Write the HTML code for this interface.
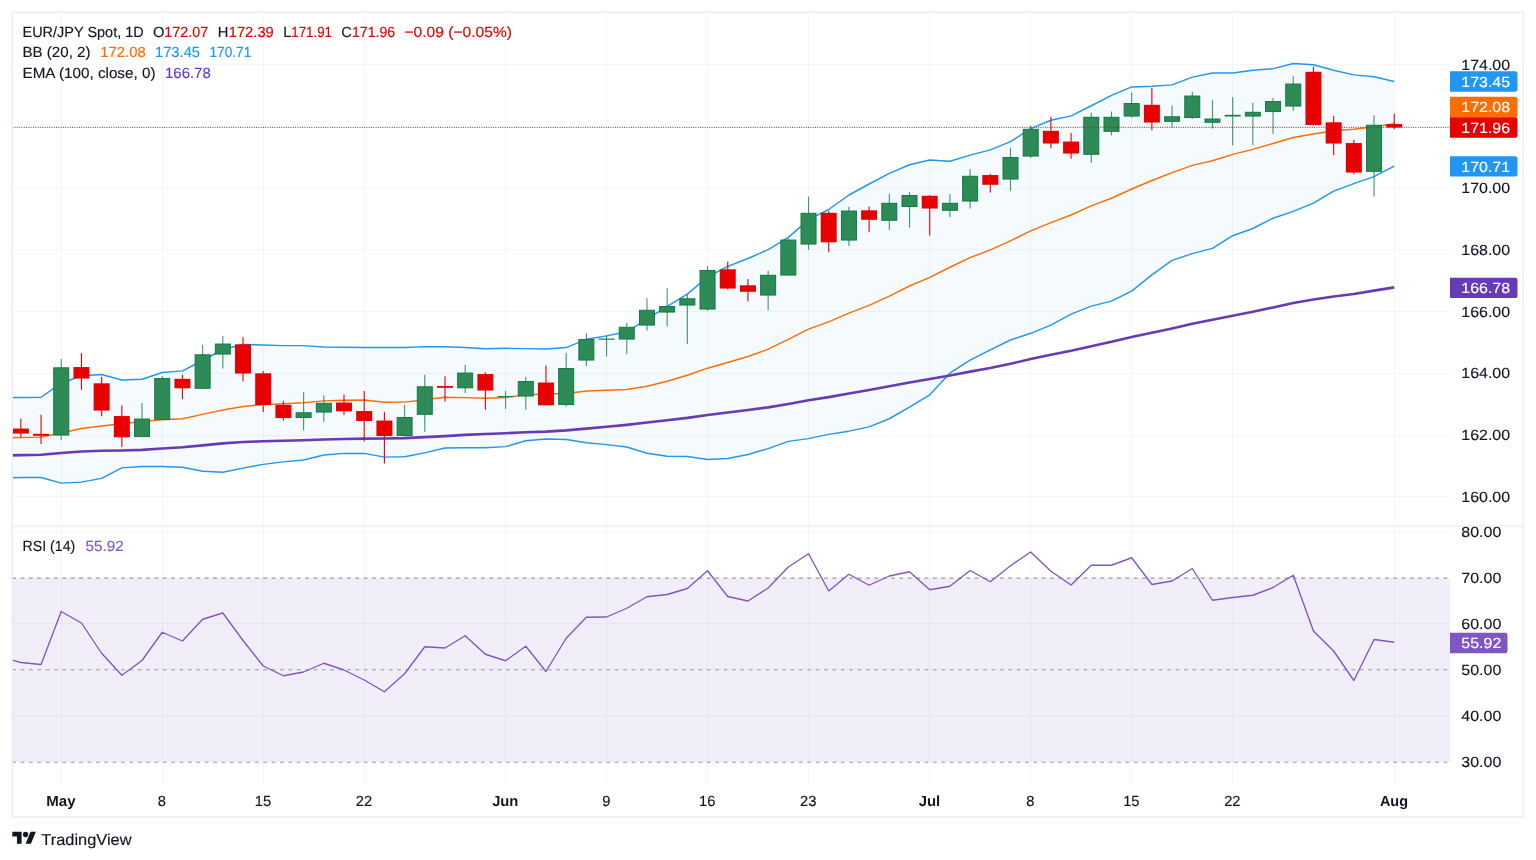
<!DOCTYPE html>
<html lang="en"><head><meta charset="utf-8"><title>EUR/JPY Spot, 1D</title>
<style>html,body{margin:0;padding:0;background:#fff}body{width:1536px;height:860px;overflow:hidden}svg{display:block}text{font-family:"Liberation Sans", sans-serif;white-space:pre;text-rendering:geometricPrecision}</style>
</head><body>
<svg width="1536" height="860" viewBox="0 0 1536 860">
<defs><clipPath id="cm"><rect x="12.5" y="12.5" width="1437" height="513"/></clipPath><clipPath id="cr"><rect x="12.5" y="526.5" width="1437" height="258"/></clipPath></defs>
<rect width="1536" height="860" fill="#fff"/>
<g stroke="#20242a" stroke-opacity="0.045" stroke-width="1" shape-rendering="crispEdges">
<line x1="61.5" y1="13" x2="61.5" y2="784"/>
<line x1="162.5" y1="13" x2="162.5" y2="784"/>
<line x1="263.5" y1="13" x2="263.5" y2="784"/>
<line x1="364.5" y1="13" x2="364.5" y2="784"/>
<line x1="505.5" y1="13" x2="505.5" y2="784"/>
<line x1="606.5" y1="13" x2="606.5" y2="784"/>
<line x1="707.5" y1="13" x2="707.5" y2="784"/>
<line x1="808.5" y1="13" x2="808.5" y2="784"/>
<line x1="929.5" y1="13" x2="929.5" y2="784"/>
<line x1="1030.5" y1="13" x2="1030.5" y2="784"/>
<line x1="1131.5" y1="13" x2="1131.5" y2="784"/>
<line x1="1232.5" y1="13" x2="1232.5" y2="784"/>
<line x1="1394.5" y1="13" x2="1394.5" y2="784"/>
<line x1="12" y1="64.5" x2="1450" y2="64.5"/>
<line x1="12" y1="126.5" x2="1450" y2="126.5"/>
<line x1="12" y1="188.5" x2="1450" y2="188.5"/>
<line x1="12" y1="249.5" x2="1450" y2="249.5"/>
<line x1="12" y1="311.5" x2="1450" y2="311.5"/>
<line x1="12" y1="373.5" x2="1450" y2="373.5"/>
<line x1="12" y1="435.5" x2="1450" y2="435.5"/>
<line x1="12" y1="496.5" x2="1450" y2="496.5"/>
<line x1="12" y1="532.5" x2="1450" y2="532.5"/>
<line x1="12" y1="623.5" x2="1450" y2="623.5"/>
<line x1="12" y1="715.5" x2="1450" y2="715.5"/>
</g>
<g clip-path="url(#cm)">
<polygon points="0.65,397.5 20.85,397.5 41.05,397.25 61.24,383.2 81.44,375.7 101.64,374.5 121.84,380 142.03,379.25 162.23,372.5 182.43,370.9 202.62,360.5 222.82,349.5 243.02,344.5 263.21,345 283.41,345.6 303.61,345.6 323.81,347 344,347.25 364.2,347.5 384.4,347.5 404.59,347.41 424.79,346.62 444.99,346.66 465.18,347.5 485.38,348.74 505.58,348.34 525.77,348.61 545.97,348.97 566.17,347.56 586.37,339.32 606.56,335.9 626.76,331.79 646.96,319.15 667.15,306.33 687.35,294.15 707.55,276.94 727.75,266.42 747.94,258.48 768.14,249.7 788.34,237.33 808.53,219.64 828.73,209.51 848.93,194.99 869.12,184.01 889.32,173.35 909.52,164.78 929.72,159.93 949.91,161.29 970.11,155.16 990.31,149.91 1010.5,141.7 1030.7,128.6 1050.9,120.23 1071.09,115.91 1091.29,105.75 1111.49,95.45 1131.68,86.94 1151.88,86.19 1172.08,84.85 1192.28,77.16 1212.47,72.99 1232.67,72.95 1252.87,70.29 1273.06,68.66 1293.26,63.55 1313.46,64.8 1333.65,70.3 1353.85,74.87 1374.05,76.68 1394.25,81.5 1394.25,166.1 1374.05,176.67 1353.85,183.58 1333.65,191.17 1313.46,203.17 1293.26,211.42 1273.06,218.24 1252.87,228.48 1232.67,235.7 1212.47,248.41 1192.28,253.67 1172.08,260.37 1151.88,274.89 1131.68,291.06 1111.49,301.1 1091.29,306.12 1071.09,314.11 1050.9,325.05 1030.7,333.3 1010.5,340 990.31,349.94 970.11,360.11 949.91,373.21 929.72,394.82 909.52,407.22 889.32,418.75 869.12,426.87 848.93,431.16 828.73,434.36 808.53,438.63 788.34,441.37 768.14,448.65 747.94,454.49 727.75,458.5 707.55,459.41 687.35,456.42 667.15,456.22 646.96,453.3 626.76,447.04 606.56,444.6 586.37,442.76 566.17,439.44 545.97,439.03 525.77,440.71 505.58,446.61 485.38,447.66 465.18,447.7 444.99,448.01 424.79,452.86 404.59,456.79 384.4,457.1 364.2,453.4 344,453.4 323.81,455 303.61,460 283.41,461.9 263.21,464.4 243.02,468.1 222.82,472.25 202.62,471.25 182.43,467.25 162.23,466.5 142.03,466.5 121.84,467.9 101.64,478.4 81.44,482.1 61.24,483.1 41.05,477.5 20.85,477.5 0.65,478.2" fill="#2196f3" fill-opacity="0.05"/>
<polyline points="0.65,437.9 20.85,437.5 41.05,437.1 61.24,433 81.44,428.5 101.64,426 121.84,423.75 142.03,421.5 162.23,419.75 182.43,418.75 202.62,414.4 222.82,410 243.02,406.5 263.21,404.6 283.41,403.75 303.61,402.75 323.81,400.9 344,400.25 364.2,400 384.4,402.25 404.59,402.1 424.79,399.74 444.99,397.34 465.18,397.6 485.38,398.2 505.58,397.48 525.77,394.66 545.97,394 566.17,393.5 586.37,391.04 606.56,390.25 626.76,389.41 646.96,386.23 667.15,381.28 687.35,375.29 707.55,368.18 727.75,362.46 747.94,356.49 768.14,349.18 788.34,339.35 808.53,329.14 828.73,321.94 848.93,313.08 869.12,305.44 889.32,296.05 909.52,286 929.72,277.38 949.91,267.25 970.11,257.64 990.31,249.93 1010.5,240.85 1030.7,230.95 1050.9,222.64 1071.09,215.01 1091.29,205.94 1111.49,198.28 1131.68,189 1151.88,180.54 1172.08,172.61 1192.28,165.41 1212.47,160.7 1232.67,154.33 1252.87,149.39 1273.06,143.45 1293.26,137.49 1313.46,133.99 1333.65,130.74 1353.85,129.23 1374.05,126.68 1394.25,123.8" fill="none" stroke="#ff6d00" stroke-width="1.45" stroke-linejoin="round"/>
<polyline points="0.65,397.5 20.85,397.5 41.05,397.25 61.24,383.2 81.44,375.7 101.64,374.5 121.84,380 142.03,379.25 162.23,372.5 182.43,370.9 202.62,360.5 222.82,349.5 243.02,344.5 263.21,345 283.41,345.6 303.61,345.6 323.81,347 344,347.25 364.2,347.5 384.4,347.5 404.59,347.41 424.79,346.62 444.99,346.66 465.18,347.5 485.38,348.74 505.58,348.34 525.77,348.61 545.97,348.97 566.17,347.56 586.37,339.32 606.56,335.9 626.76,331.79 646.96,319.15 667.15,306.33 687.35,294.15 707.55,276.94 727.75,266.42 747.94,258.48 768.14,249.7 788.34,237.33 808.53,219.64 828.73,209.51 848.93,194.99 869.12,184.01 889.32,173.35 909.52,164.78 929.72,159.93 949.91,161.29 970.11,155.16 990.31,149.91 1010.5,141.7 1030.7,128.6 1050.9,120.23 1071.09,115.91 1091.29,105.75 1111.49,95.45 1131.68,86.94 1151.88,86.19 1172.08,84.85 1192.28,77.16 1212.47,72.99 1232.67,72.95 1252.87,70.29 1273.06,68.66 1293.26,63.55 1313.46,64.8 1333.65,70.3 1353.85,74.87 1374.05,76.68 1394.25,81.5" fill="none" stroke="#2196f3" stroke-width="1.45" stroke-linejoin="round"/>
<polyline points="0.65,478.2 20.85,477.5 41.05,477.5 61.24,483.1 81.44,482.1 101.64,478.4 121.84,467.9 142.03,466.5 162.23,466.5 182.43,467.25 202.62,471.25 222.82,472.25 243.02,468.1 263.21,464.4 283.41,461.9 303.61,460 323.81,455 344,453.4 364.2,453.4 384.4,457.1 404.59,456.79 424.79,452.86 444.99,448.01 465.18,447.7 485.38,447.66 505.58,446.61 525.77,440.71 545.97,439.03 566.17,439.44 586.37,442.76 606.56,444.6 626.76,447.04 646.96,453.3 667.15,456.22 687.35,456.42 707.55,459.41 727.75,458.5 747.94,454.49 768.14,448.65 788.34,441.37 808.53,438.63 828.73,434.36 848.93,431.16 869.12,426.87 889.32,418.75 909.52,407.22 929.72,394.82 949.91,373.21 970.11,360.11 990.31,349.94 1010.5,340 1030.7,333.3 1050.9,325.05 1071.09,314.11 1091.29,306.12 1111.49,301.1 1131.68,291.06 1151.88,274.89 1172.08,260.37 1192.28,253.67 1212.47,248.41 1232.67,235.7 1252.87,228.48 1273.06,218.24 1293.26,211.42 1313.46,203.17 1333.65,191.17 1353.85,183.58 1374.05,176.67 1394.25,166.1" fill="none" stroke="#2196f3" stroke-width="1.45" stroke-linejoin="round"/>
<polyline points="0.65,455.6 20.85,455.16 41.05,454.78 61.24,453.05 81.44,451.57 101.64,450.76 121.84,450.49 142.03,449.86 162.23,448.44 182.43,447.25 202.62,445.41 222.82,443.39 243.02,442.01 263.21,441.28 283.41,440.82 303.61,440.25 323.81,439.51 344,438.95 364.2,438.6 384.4,438.55 404.59,438.12 424.79,437.1 444.99,436.12 465.18,434.86 485.38,433.99 505.58,433.24 525.77,432.2 545.97,431.67 566.17,430.41 586.37,428.61 606.56,426.82 626.76,424.84 646.96,422.57 667.15,420.26 687.35,417.85 707.55,414.92 727.75,412.42 747.94,410.04 768.14,407.36 788.34,404.04 808.53,400.25 828.73,397.13 848.93,393.43 869.12,390 889.32,386.29 909.52,382.51 929.72,379.06 949.91,375.57 970.11,371.62 990.31,367.92 1010.5,363.75 1030.7,359.1 1050.9,354.83 1071.09,350.84 1091.29,346.21 1111.49,341.67 1131.68,336.94 1151.88,332.7 1172.08,328.41 1192.28,323.8 1212.47,319.74 1232.67,315.68 1252.87,311.65 1273.06,307.48 1293.26,303.04 1313.46,299.52 1333.65,296.43 1353.85,293.98 1374.05,290.63 1394.25,287.4" fill="none" stroke="#673ab7" stroke-width="2.6" stroke-linejoin="round"/>
<rect x="20.3" y="418.55" width="1.1" height="18.75" fill="#e60000"/>
<rect x="12.85" y="428.55" width="16" height="5" fill="#e60000"/>
<rect x="40.5" y="414.8" width="1.1" height="29.25" fill="#e60000"/>
<rect x="33.05" y="433.8" width="16" height="2" fill="#e60000"/>
<rect x="60.69" y="359.05" width="1.1" height="81.25" fill="#2e8b57" fill-opacity="0.9"/>
<rect x="53.74" y="367.8" width="15" height="67.25" fill="#2e8b57" stroke="#0f7b41" stroke-width="1"/>
<rect x="80.89" y="353.05" width="1.1" height="36.75" fill="#e60000"/>
<rect x="73.44" y="367.05" width="16" height="11.5" fill="#e60000"/>
<rect x="101.09" y="376.8" width="1.1" height="39.5" fill="#e60000"/>
<rect x="93.64" y="383.3" width="16" height="27.25" fill="#e60000"/>
<rect x="121.29" y="405.55" width="1.1" height="41.5" fill="#e60000"/>
<rect x="113.84" y="416.05" width="16" height="21.25" fill="#e60000"/>
<rect x="141.48" y="403.05" width="1.1" height="34" fill="#2e8b57" fill-opacity="0.9"/>
<rect x="134.53" y="419.05" width="15" height="17.5" fill="#2e8b57" stroke="#0f7b41" stroke-width="1"/>
<rect x="161.68" y="376.05" width="1.1" height="43.75" fill="#2e8b57" fill-opacity="0.9"/>
<rect x="154.73" y="378.55" width="15" height="40.75" fill="#2e8b57" stroke="#0f7b41" stroke-width="1"/>
<rect x="181.88" y="374.8" width="1.1" height="24.25" fill="#e60000"/>
<rect x="174.43" y="378.8" width="16" height="9.5" fill="#e60000"/>
<rect x="202.07" y="344.8" width="1.1" height="44" fill="#2e8b57" fill-opacity="0.9"/>
<rect x="195.12" y="354.8" width="15" height="33.5" fill="#2e8b57" stroke="#0f7b41" stroke-width="1"/>
<rect x="222.27" y="335.8" width="1.1" height="32.75" fill="#2e8b57" fill-opacity="0.9"/>
<rect x="215.32" y="344.05" width="15" height="10" fill="#2e8b57" stroke="#0f7b41" stroke-width="1"/>
<rect x="242.47" y="337.3" width="1.1" height="44" fill="#e60000"/>
<rect x="235.02" y="344.3" width="16" height="29.25" fill="#e60000"/>
<rect x="262.66" y="371.05" width="1.1" height="41" fill="#e60000"/>
<rect x="255.21" y="373.3" width="16" height="31.75" fill="#e60000"/>
<rect x="282.86" y="401.05" width="1.1" height="19.5" fill="#e60000"/>
<rect x="275.41" y="404.8" width="16" height="13.25" fill="#e60000"/>
<rect x="303.06" y="392.3" width="1.1" height="38" fill="#2e8b57" fill-opacity="0.9"/>
<rect x="296.11" y="412.8" width="15" height="4.75" fill="#2e8b57" stroke="#0f7b41" stroke-width="1"/>
<rect x="323.25" y="395.3" width="1.1" height="26.5" fill="#2e8b57" fill-opacity="0.9"/>
<rect x="316.31" y="403.3" width="15" height="8.75" fill="#2e8b57" stroke="#0f7b41" stroke-width="1"/>
<rect x="343.45" y="394.55" width="1.1" height="20.5" fill="#e60000"/>
<rect x="336" y="402.55" width="16" height="8.75" fill="#e60000"/>
<rect x="363.65" y="391.05" width="1.1" height="50.25" fill="#e60000"/>
<rect x="356.2" y="411.05" width="16" height="10" fill="#e60000"/>
<rect x="383.85" y="411.8" width="1.1" height="51.75" fill="#e60000"/>
<rect x="376.4" y="420.55" width="16" height="15.5" fill="#e60000"/>
<rect x="404.04" y="404.8" width="1.1" height="31.5" fill="#2e8b57" fill-opacity="0.9"/>
<rect x="397.09" y="417.55" width="15" height="18" fill="#2e8b57" stroke="#0f7b41" stroke-width="1"/>
<rect x="424.24" y="374.8" width="1.1" height="57" fill="#2e8b57" fill-opacity="0.9"/>
<rect x="417.29" y="386.8" width="15" height="27.5" fill="#2e8b57" stroke="#0f7b41" stroke-width="1"/>
<rect x="444.44" y="376.3" width="1.1" height="25.25" fill="#e60000"/>
<rect x="436.99" y="386.05" width="16" height="1.75" fill="#e60000"/>
<rect x="464.63" y="364.8" width="1.1" height="28.25" fill="#2e8b57" fill-opacity="0.9"/>
<rect x="457.68" y="373.05" width="15" height="14.75" fill="#2e8b57" stroke="#0f7b41" stroke-width="1"/>
<rect x="484.83" y="372.3" width="1.1" height="37.5" fill="#e60000"/>
<rect x="477.38" y="374.05" width="16" height="16.5" fill="#e60000"/>
<rect x="505.03" y="390.8" width="1.1" height="18.25" fill="#2e8b57" fill-opacity="0.9"/>
<rect x="497.58" y="396.05" width="16" height="1.2" fill="#1f8249"/>
<rect x="525.23" y="376.8" width="1.1" height="33" fill="#2e8b57" fill-opacity="0.9"/>
<rect x="518.27" y="381.55" width="15" height="14.5" fill="#2e8b57" stroke="#0f7b41" stroke-width="1"/>
<rect x="545.42" y="365.55" width="1.1" height="39.75" fill="#e60000"/>
<rect x="537.97" y="382.55" width="16" height="22.75" fill="#e60000"/>
<rect x="565.62" y="352.8" width="1.1" height="54" fill="#2e8b57" fill-opacity="0.9"/>
<rect x="558.67" y="368.55" width="15" height="36" fill="#2e8b57" stroke="#0f7b41" stroke-width="1"/>
<rect x="585.82" y="333.3" width="1.1" height="32.75" fill="#2e8b57" fill-opacity="0.9"/>
<rect x="578.87" y="339.55" width="15" height="20.5" fill="#2e8b57" stroke="#0f7b41" stroke-width="1"/>
<rect x="606.01" y="335.3" width="1.1" height="21.25" fill="#2e8b57" fill-opacity="0.9"/>
<rect x="598.56" y="338.55" width="16" height="1.2" fill="#1f8249"/>
<rect x="626.21" y="322.8" width="1.1" height="31.25" fill="#2e8b57" fill-opacity="0.9"/>
<rect x="619.26" y="327.3" width="15" height="11.75" fill="#2e8b57" stroke="#0f7b41" stroke-width="1"/>
<rect x="646.41" y="298.3" width="1.1" height="32.25" fill="#2e8b57" fill-opacity="0.9"/>
<rect x="639.46" y="310.3" width="15" height="14.75" fill="#2e8b57" stroke="#0f7b41" stroke-width="1"/>
<rect x="666.6" y="288.3" width="1.1" height="38.25" fill="#2e8b57" fill-opacity="0.9"/>
<rect x="659.65" y="306.55" width="15" height="5.5" fill="#2e8b57" stroke="#0f7b41" stroke-width="1"/>
<rect x="686.8" y="294.3" width="1.1" height="49.5" fill="#2e8b57" fill-opacity="0.9"/>
<rect x="679.85" y="298.8" width="15" height="6.25" fill="#2e8b57" stroke="#0f7b41" stroke-width="1"/>
<rect x="707" y="266.3" width="1.1" height="44.5" fill="#2e8b57" fill-opacity="0.9"/>
<rect x="700.05" y="270.55" width="15" height="38.5" fill="#2e8b57" stroke="#0f7b41" stroke-width="1"/>
<rect x="727.2" y="261.55" width="1.1" height="28" fill="#e60000"/>
<rect x="719.75" y="269.3" width="16" height="19.25" fill="#e60000"/>
<rect x="747.39" y="279.05" width="1.1" height="22.25" fill="#e60000"/>
<rect x="739.94" y="285.3" width="16" height="6.5" fill="#e60000"/>
<rect x="767.59" y="270.8" width="1.1" height="39.5" fill="#2e8b57" fill-opacity="0.9"/>
<rect x="760.64" y="275.3" width="15" height="19.75" fill="#2e8b57" stroke="#0f7b41" stroke-width="1"/>
<rect x="787.79" y="238.55" width="1.1" height="37" fill="#2e8b57" fill-opacity="0.9"/>
<rect x="780.84" y="240.05" width="15" height="35" fill="#2e8b57" stroke="#0f7b41" stroke-width="1"/>
<rect x="807.98" y="196.55" width="1.1" height="53.25" fill="#2e8b57" fill-opacity="0.9"/>
<rect x="801.03" y="213.3" width="15" height="30.75" fill="#2e8b57" stroke="#0f7b41" stroke-width="1"/>
<rect x="828.18" y="211.05" width="1.1" height="41.25" fill="#e60000"/>
<rect x="820.73" y="212.8" width="16" height="29.5" fill="#e60000"/>
<rect x="848.38" y="206.8" width="1.1" height="39.25" fill="#2e8b57" fill-opacity="0.9"/>
<rect x="841.43" y="211.05" width="15" height="29" fill="#2e8b57" stroke="#0f7b41" stroke-width="1"/>
<rect x="868.57" y="206.55" width="1.1" height="25.75" fill="#e60000"/>
<rect x="861.12" y="210.3" width="16" height="9.5" fill="#e60000"/>
<rect x="888.77" y="193.8" width="1.1" height="36" fill="#2e8b57" fill-opacity="0.9"/>
<rect x="881.82" y="203.3" width="15" height="17" fill="#2e8b57" stroke="#0f7b41" stroke-width="1"/>
<rect x="908.97" y="192.05" width="1.1" height="35.5" fill="#2e8b57" fill-opacity="0.9"/>
<rect x="902.02" y="195.55" width="15" height="11" fill="#2e8b57" stroke="#0f7b41" stroke-width="1"/>
<rect x="929.17" y="195.05" width="1.1" height="40.5" fill="#e60000"/>
<rect x="921.72" y="195.8" width="16" height="12.75" fill="#e60000"/>
<rect x="949.36" y="194.05" width="1.1" height="23" fill="#2e8b57" fill-opacity="0.9"/>
<rect x="942.41" y="203.3" width="15" height="7" fill="#2e8b57" stroke="#0f7b41" stroke-width="1"/>
<rect x="969.56" y="169.05" width="1.1" height="39.5" fill="#2e8b57" fill-opacity="0.9"/>
<rect x="962.61" y="176.3" width="15" height="24.75" fill="#2e8b57" stroke="#0f7b41" stroke-width="1"/>
<rect x="989.76" y="173.8" width="1.1" height="18.75" fill="#e60000"/>
<rect x="982.31" y="175.05" width="16" height="9.75" fill="#e60000"/>
<rect x="1009.95" y="147.8" width="1.1" height="43" fill="#2e8b57" fill-opacity="0.9"/>
<rect x="1003" y="157.55" width="15" height="21.5" fill="#2e8b57" stroke="#0f7b41" stroke-width="1"/>
<rect x="1030.15" y="125.55" width="1.1" height="32.5" fill="#2e8b57" fill-opacity="0.9"/>
<rect x="1023.2" y="129.3" width="15" height="26.75" fill="#2e8b57" stroke="#0f7b41" stroke-width="1"/>
<rect x="1050.35" y="116.8" width="1.1" height="31.5" fill="#e60000"/>
<rect x="1042.9" y="130.8" width="16" height="12.75" fill="#e60000"/>
<rect x="1070.54" y="133.05" width="1.1" height="25.75" fill="#e60000"/>
<rect x="1063.09" y="141.55" width="16" height="12" fill="#e60000"/>
<rect x="1090.74" y="112.8" width="1.1" height="50" fill="#2e8b57" fill-opacity="0.9"/>
<rect x="1083.79" y="117.3" width="15" height="37" fill="#2e8b57" stroke="#0f7b41" stroke-width="1"/>
<rect x="1110.94" y="111.55" width="1.1" height="23.75" fill="#2e8b57" fill-opacity="0.9"/>
<rect x="1103.99" y="117.3" width="15" height="14" fill="#2e8b57" stroke="#0f7b41" stroke-width="1"/>
<rect x="1131.13" y="92.55" width="1.1" height="25.25" fill="#2e8b57" fill-opacity="0.9"/>
<rect x="1124.18" y="103.55" width="15" height="12.5" fill="#2e8b57" stroke="#0f7b41" stroke-width="1"/>
<rect x="1151.33" y="87.8" width="1.1" height="42.5" fill="#e60000"/>
<rect x="1143.88" y="104.8" width="16" height="17.75" fill="#e60000"/>
<rect x="1171.53" y="105.55" width="1.1" height="22" fill="#2e8b57" fill-opacity="0.9"/>
<rect x="1164.58" y="116.8" width="15" height="4.5" fill="#2e8b57" stroke="#0f7b41" stroke-width="1"/>
<rect x="1191.73" y="91.8" width="1.1" height="27.25" fill="#2e8b57" fill-opacity="0.9"/>
<rect x="1184.78" y="96.05" width="15" height="21.5" fill="#2e8b57" stroke="#0f7b41" stroke-width="1"/>
<rect x="1211.92" y="100.3" width="1.1" height="28.25" fill="#2e8b57" fill-opacity="0.9"/>
<rect x="1204.97" y="119.05" width="15" height="3.25" fill="#2e8b57" stroke="#0f7b41" stroke-width="1"/>
<rect x="1232.12" y="97.05" width="1.1" height="48.25" fill="#2e8b57" fill-opacity="0.9"/>
<rect x="1224.67" y="114.8" width="16" height="1.75" fill="#1f8249"/>
<rect x="1252.32" y="102.8" width="1.1" height="42.25" fill="#2e8b57" fill-opacity="0.9"/>
<rect x="1245.37" y="112.3" width="15" height="3.75" fill="#2e8b57" stroke="#0f7b41" stroke-width="1"/>
<rect x="1272.51" y="97.8" width="1.1" height="36" fill="#2e8b57" fill-opacity="0.9"/>
<rect x="1265.56" y="101.55" width="15" height="10" fill="#2e8b57" stroke="#0f7b41" stroke-width="1"/>
<rect x="1292.71" y="76.3" width="1.1" height="34.5" fill="#2e8b57" fill-opacity="0.9"/>
<rect x="1285.76" y="84.05" width="15" height="22" fill="#2e8b57" stroke="#0f7b41" stroke-width="1"/>
<rect x="1312.91" y="66.8" width="1.1" height="58.75" fill="#e60000"/>
<rect x="1305.46" y="71.8" width="16" height="53.25" fill="#e60000"/>
<rect x="1333.1" y="116.05" width="1.1" height="39" fill="#e60000"/>
<rect x="1325.65" y="122.3" width="16" height="21.25" fill="#e60000"/>
<rect x="1353.3" y="139.8" width="1.1" height="34.5" fill="#e60000"/>
<rect x="1345.85" y="143.05" width="16" height="29.5" fill="#e60000"/>
<rect x="1373.5" y="115.3" width="1.1" height="81.25" fill="#2e8b57" fill-opacity="0.9"/>
<rect x="1366.55" y="125.3" width="15" height="46" fill="#2e8b57" stroke="#0f7b41" stroke-width="1"/>
<rect x="1393.7" y="113.8" width="1.1" height="15.5" fill="#e60000"/>
<rect x="1386.25" y="124.05" width="16" height="3.5" fill="#e60000"/>
</g>
<line x1="12.3" y1="127.4" x2="1450" y2="127.4" stroke="#e60000" stroke-width="1" stroke-dasharray="0.95 1.35" stroke-opacity="0.9"/>
<rect x="12" y="525.1" width="1512" height="1.6" fill="#eef0f4"/>
<rect x="12.3" y="578.1" width="1437.9" height="183.9" fill="#7e57c2" fill-opacity="0.1"/>
<line x1="12.2" y1="578.1" x2="1450" y2="578.1" stroke="#787b86" stroke-width="1.05" stroke-dasharray="3.8 4.57" stroke-opacity="0.75"/>
<line x1="12.2" y1="669.7" x2="1450" y2="669.7" stroke="#787b86" stroke-width="1.05" stroke-dasharray="3.8 4.57" stroke-opacity="0.75"/>
<line x1="12.2" y1="762.2" x2="1450" y2="762.2" stroke="#787b86" stroke-width="1.05" stroke-dasharray="3.8 4.57" stroke-opacity="0.75"/>
<g clip-path="url(#cr)">
<polyline points="0.65,657.1 20.85,662.5 41.05,664.5 61.24,611.5 81.44,623 101.64,653.25 121.84,675.25 142.03,660.5 162.23,632.25 182.43,641 202.62,619.25 222.82,613 243.02,640.5 263.21,666 283.41,675.75 303.61,672 323.81,663.25 344,670 364.2,680 384.4,691.75 404.59,673.75 424.79,646.75 444.99,648 465.18,635.75 485.38,654.25 505.58,660.75 525.77,646.25 545.97,671.5 566.17,638.25 586.37,617.25 606.56,617 626.76,608.25 646.96,596.75 667.15,594.5 687.35,588.5 707.55,570.75 727.75,596.5 747.94,601 768.14,588 788.34,567 808.53,553.75 828.73,591 848.93,574.25 869.12,585.25 889.32,576 909.52,571.75 929.72,589.75 949.91,586.25 970.11,570.5 990.31,581.75 1010.5,565.75 1030.7,552 1050.9,571.25 1071.09,585 1091.29,565.25 1111.49,565.25 1131.68,557.75 1151.88,584.5 1172.08,581 1192.28,568.5 1212.47,600.25 1232.67,597.5 1252.87,595.25 1273.06,587.5 1293.26,575.25 1313.46,631 1333.65,651 1353.85,680.5 1374.05,639.5 1394.25,642.25" fill="none" stroke="#7e57c2" stroke-width="1.35" stroke-linejoin="round"/>
</g>
<rect x="12.25" y="12.3" width="1511.15" height="804.75" fill="none" stroke="#eaecf1" stroke-width="1.3"/>
<text x="1461.3" y="69.6" font-size="14.7" fill="#131722" stroke="#131722" stroke-width="0.15" textLength="48.8" lengthAdjust="spacingAndGlyphs">174.00</text>
<text x="1461.3" y="193.1" font-size="14.7" fill="#131722" stroke="#131722" stroke-width="0.15" textLength="48.8" lengthAdjust="spacingAndGlyphs">170.00</text>
<text x="1461.3" y="254.85" font-size="14.7" fill="#131722" stroke="#131722" stroke-width="0.15" textLength="48.8" lengthAdjust="spacingAndGlyphs">168.00</text>
<text x="1461.3" y="316.6" font-size="14.7" fill="#131722" stroke="#131722" stroke-width="0.15" textLength="48.8" lengthAdjust="spacingAndGlyphs">166.00</text>
<text x="1461.3" y="378.35" font-size="14.7" fill="#131722" stroke="#131722" stroke-width="0.15" textLength="48.8" lengthAdjust="spacingAndGlyphs">164.00</text>
<text x="1461.3" y="440.1" font-size="14.7" fill="#131722" stroke="#131722" stroke-width="0.15" textLength="48.8" lengthAdjust="spacingAndGlyphs">162.00</text>
<text x="1461.3" y="501.85" font-size="14.7" fill="#131722" stroke="#131722" stroke-width="0.15" textLength="48.8" lengthAdjust="spacingAndGlyphs">160.00</text>
<text x="1461.3" y="537.4" font-size="14.7" fill="#131722" stroke="#131722" stroke-width="0.15" textLength="40" lengthAdjust="spacingAndGlyphs">80.00</text>
<text x="1461.3" y="583.2" font-size="14.7" fill="#131722" stroke="#131722" stroke-width="0.15" textLength="40" lengthAdjust="spacingAndGlyphs">70.00</text>
<text x="1461.3" y="628.8" font-size="14.7" fill="#131722" stroke="#131722" stroke-width="0.15" textLength="40" lengthAdjust="spacingAndGlyphs">60.00</text>
<text x="1461.3" y="674.9" font-size="14.7" fill="#131722" stroke="#131722" stroke-width="0.15" textLength="40" lengthAdjust="spacingAndGlyphs">50.00</text>
<text x="1461.3" y="720.9" font-size="14.7" fill="#131722" stroke="#131722" stroke-width="0.15" textLength="40" lengthAdjust="spacingAndGlyphs">40.00</text>
<text x="1461.3" y="766.9" font-size="14.7" fill="#131722" stroke="#131722" stroke-width="0.15" textLength="40" lengthAdjust="spacingAndGlyphs">30.00</text>
<path d="M1450 71.3H1515.3A2.2 2.2 0 0 1 1517.5 73.5V89.5A2.2 2.2 0 0 1 1515.3 91.7H1450Z" fill="#2196f3"/>
<text x="1461.3" y="86.7" font-size="14.7" fill="#fff" stroke="#fff" stroke-width="0.15" textLength="48.8" lengthAdjust="spacingAndGlyphs">173.45</text>
<path d="M1450 96.8H1515.3A2.2 2.2 0 0 1 1517.5 99V115A2.2 2.2 0 0 1 1515.3 117.2H1450Z" fill="#ff6d00"/>
<text x="1461.3" y="112.2" font-size="14.7" fill="#fff" stroke="#fff" stroke-width="0.15" textLength="48.8" lengthAdjust="spacingAndGlyphs">172.08</text>
<path d="M1450 117.25H1515.3A2.2 2.2 0 0 1 1517.5 119.45V135.45A2.2 2.2 0 0 1 1515.3 137.65H1450Z" fill="#e60000"/>
<text x="1461.3" y="132.65" font-size="14.7" fill="#fff" stroke="#fff" stroke-width="0.15" textLength="48.8" lengthAdjust="spacingAndGlyphs">171.96</text>
<path d="M1450 156.2H1515.3A2.2 2.2 0 0 1 1517.5 158.4V174.4A2.2 2.2 0 0 1 1515.3 176.6H1450Z" fill="#2196f3"/>
<text x="1461.3" y="171.6" font-size="14.7" fill="#fff" stroke="#fff" stroke-width="0.15" textLength="48.8" lengthAdjust="spacingAndGlyphs">170.71</text>
<path d="M1450 277.7H1515.3A2.2 2.2 0 0 1 1517.5 279.9V295.9A2.2 2.2 0 0 1 1515.3 298.1H1450Z" fill="#673ab7"/>
<text x="1461.3" y="293.1" font-size="14.7" fill="#fff" stroke="#fff" stroke-width="0.15" textLength="48.8" lengthAdjust="spacingAndGlyphs">166.78</text>
<path d="M1450 632.8H1505.3A2.2 2.2 0 0 1 1507.5 635V651A2.2 2.2 0 0 1 1505.3 653.2H1450Z" fill="#7e57c2"/>
<text x="1461.3" y="648.2" font-size="14.7" fill="#fff" stroke="#fff" stroke-width="0.15" textLength="40" lengthAdjust="spacingAndGlyphs">55.92</text>
<text x="46.29" y="806.4" font-size="14.7" fill="#131722" stroke="#131722" stroke-width="0" font-weight="bold" textLength="29.3" lengthAdjust="spacingAndGlyphs">May</text>
<text x="157.83" y="806.4" font-size="14.7" fill="#131722" stroke="#131722" stroke-width="0.15" textLength="8.2" lengthAdjust="spacingAndGlyphs">8</text>
<text x="254.71" y="806.4" font-size="14.7" fill="#131722" stroke="#131722" stroke-width="0.15" textLength="16.4" lengthAdjust="spacingAndGlyphs">15</text>
<text x="355.7" y="806.4" font-size="14.7" fill="#131722" stroke="#131722" stroke-width="0.15" textLength="16.4" lengthAdjust="spacingAndGlyphs">22</text>
<text x="492.18" y="806.4" font-size="14.7" fill="#131722" stroke="#131722" stroke-width="0" font-weight="bold" textLength="26.2" lengthAdjust="spacingAndGlyphs">Jun</text>
<text x="602.16" y="806.4" font-size="14.7" fill="#131722" stroke="#131722" stroke-width="0.15" textLength="8.2" lengthAdjust="spacingAndGlyphs">9</text>
<text x="699.05" y="806.4" font-size="14.7" fill="#131722" stroke="#131722" stroke-width="0.15" textLength="16.4" lengthAdjust="spacingAndGlyphs">16</text>
<text x="800.03" y="806.4" font-size="14.7" fill="#131722" stroke="#131722" stroke-width="0.15" textLength="16.4" lengthAdjust="spacingAndGlyphs">23</text>
<text x="918.67" y="806.4" font-size="14.7" fill="#131722" stroke="#131722" stroke-width="0" font-weight="bold" textLength="21.5" lengthAdjust="spacingAndGlyphs">Jul</text>
<text x="1026.3" y="806.4" font-size="14.7" fill="#131722" stroke="#131722" stroke-width="0.15" textLength="8.2" lengthAdjust="spacingAndGlyphs">8</text>
<text x="1123.18" y="806.4" font-size="14.7" fill="#131722" stroke="#131722" stroke-width="0.15" textLength="16.4" lengthAdjust="spacingAndGlyphs">15</text>
<text x="1224.17" y="806.4" font-size="14.7" fill="#131722" stroke="#131722" stroke-width="0.15" textLength="16.4" lengthAdjust="spacingAndGlyphs">22</text>
<text x="1379.95" y="806.4" font-size="14.7" fill="#131722" stroke="#131722" stroke-width="0" font-weight="bold" textLength="28" lengthAdjust="spacingAndGlyphs">Aug</text>
<text x="22.5" y="36.5" font-size="14.7" fill="#131722" stroke="#131722" stroke-width="0.15" textLength="121.25" lengthAdjust="spacingAndGlyphs">EUR/JPY Spot, 1D</text>
<text x="153" y="36.5" font-size="14.7" fill="#131722" stroke="#131722" stroke-width="0.15">O</text>
<text x="164.25" y="36.5" font-size="14.7" fill="#e60000" stroke="#e60000" stroke-width="0.15" textLength="44" lengthAdjust="spacingAndGlyphs">172.07</text>
<text x="217.75" y="36.5" font-size="14.7" fill="#131722" stroke="#131722" stroke-width="0.15">H</text>
<text x="228.75" y="36.5" font-size="14.7" fill="#e60000" stroke="#e60000" stroke-width="0.15" textLength="45" lengthAdjust="spacingAndGlyphs">172.39</text>
<text x="283.25" y="36.5" font-size="14.7" fill="#131722" stroke="#131722" stroke-width="0.15">L</text>
<text x="291.25" y="36.5" font-size="14.7" fill="#e60000" stroke="#e60000" stroke-width="0.15" textLength="40.75" lengthAdjust="spacingAndGlyphs">171.91</text>
<text x="341.25" y="36.5" font-size="14.7" fill="#131722" stroke="#131722" stroke-width="0.15">C</text>
<text x="352" y="36.5" font-size="14.7" fill="#e60000" stroke="#e60000" stroke-width="0.15" textLength="43.25" lengthAdjust="spacingAndGlyphs">171.96</text>
<text x="404.5" y="36.5" font-size="14.7" fill="#e60000" stroke="#e60000" stroke-width="0.15" textLength="107.5" lengthAdjust="spacingAndGlyphs">−0.09 (−0.05%)</text>
<text x="22.5" y="57" font-size="14.7" fill="#131722" stroke="#131722" stroke-width="0.15" textLength="68" lengthAdjust="spacingAndGlyphs">BB (20, 2)</text>
<text x="100.25" y="57" font-size="14.7" fill="#ff6d00" stroke="#ff6d00" stroke-width="0.15" textLength="45.5" lengthAdjust="spacingAndGlyphs">172.08</text>
<text x="155" y="57" font-size="14.7" fill="#2196f3" stroke="#2196f3" stroke-width="0.15" textLength="45" lengthAdjust="spacingAndGlyphs">173.45</text>
<text x="209.5" y="57" font-size="14.7" fill="#2196f3" stroke="#2196f3" stroke-width="0.15" textLength="41.75" lengthAdjust="spacingAndGlyphs">170.71</text>
<text x="22.5" y="77.5" font-size="14.7" fill="#131722" stroke="#131722" stroke-width="0.15" textLength="133" lengthAdjust="spacingAndGlyphs">EMA (100, close, 0)</text>
<text x="165" y="77.5" font-size="14.7" fill="#673ab7" stroke="#673ab7" stroke-width="0.15" textLength="45.75" lengthAdjust="spacingAndGlyphs">166.78</text>
<text x="22.5" y="550.9" font-size="14.7" fill="#131722" stroke="#131722" stroke-width="0.15" textLength="52.75" lengthAdjust="spacingAndGlyphs">RSI (14)</text>
<text x="85.5" y="550.9" font-size="14.7" fill="#7e57c2" stroke="#7e57c2" stroke-width="0.15" textLength="38.25" lengthAdjust="spacingAndGlyphs">55.92</text>
<g transform="translate(12.3 829.2) scale(0.665)" fill="#131722"><path d="M14 22H7V11H0V4h14v18zM28 22h-8l7.5-18h8L28 22z"/><circle cx="20" cy="8" r="4"/></g>
<text x="41.3" y="844.6" font-size="15.8" fill="#131722" stroke="#131722" stroke-width="0.15" textLength="90.2" lengthAdjust="spacingAndGlyphs">TradingView</text>
</svg>
</body></html>
